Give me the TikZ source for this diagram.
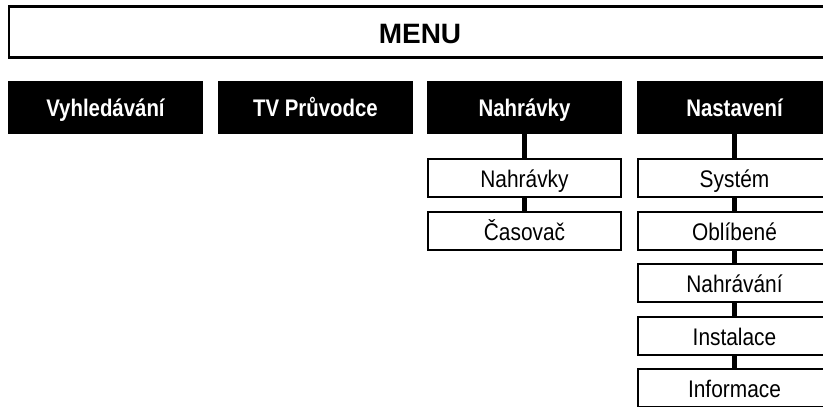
\documentclass[tikz,border=0pt]{standalone}
\usepackage{fontspec}
\setmainfont{Liberation Sans}
\newfontfamily\headfont[FakeStretch=0.85]{Liberation Sans}
\newfontfamily\itemfont[FakeStretch=0.87]{Liberation Sans}
\usepackage{tikz}
\usetikzlibrary{positioning}

\tikzset{
  menubox/.style={draw=black, line width=2.3pt, minimum width=822pt, minimum height=51pt,
    inner sep=0pt, outer sep=0pt, text height=22.5pt, text depth=0pt,
    font=\fontsize{28}{30}\selectfont\bfseries},
  headbox/.style={fill=black, text=white, minimum width=195pt, minimum height=53pt,
    inner sep=0pt, outer sep=0pt, text height=17pt, text depth=0pt,
    font=\headfont\fontsize{24}{27}\selectfont\bfseries},
  itembox/.style={draw=black, line width=2pt, fill=white, minimum width=193pt, minimum height=38pt,
    inner sep=0pt, outer sep=0pt, text height=19.5pt, text depth=0pt,
    font=\itemfont\fontsize{24}{27}\selectfont},
  link/.style={line width=5pt}
}

\begin{document}
\begin{tikzpicture}[x=1pt, y=-1pt]
  \useasboundingbox (0,0) rectangle (823,407);
  \clip (0,0) rectangle (823,407);

  % Top box
  \node[menubox] (menu) at (420, 32) {MENU};

  % Main items
  \node[headbox] (search) at (105.5, 107.5) {Vyhledávání};
  \node[headbox] (guide)  at (315.5, 107.5) {TV Průvodce};
  \node[headbox] (rec)    at (524.5, 107.5) {Nahrávky};
  \node[headbox] (setup)  at (734.5, 107.5) {Nastavení};

  % Nahrávky submenu
  \node[itembox] (recA) at (524.5, 178)   {Nahrávky};
  \node[itembox] (recB) at (524.5, 230.5) {Časovač};

  % Nastavení submenu
  \node[itembox] (setA) at (734.5, 178)   {Systém};
  \node[itembox] (setB) at (734.5, 230.5) {Oblíbené};
  \node[itembox] (setC) at (734.5, 283)   {Nahrávání};
  \node[itembox] (setD) at (734.5, 335.5) {Instalace};
  \node[itembox] (setE) at (734.5, 388)   {Informace};

  % Connectors
  \draw[link] (rec.south) -- (recA.north);
  \draw[link] (recA.south) -- (recB.north);

  \draw[link] (setup.south) -- (setA.north);
  \draw[link] (setA.south) -- (setB.north);
  \draw[link] (setB.south) -- (setC.north);
  \draw[link] (setC.south) -- (setD.north);
  \draw[link] (setD.south) -- (setE.north);
\end{tikzpicture}
\end{document}
